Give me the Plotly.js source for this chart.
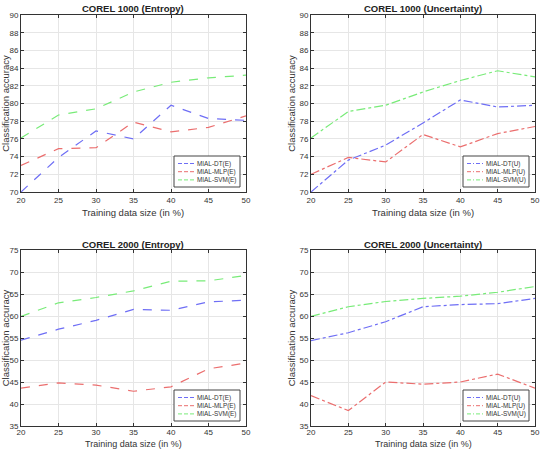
<!DOCTYPE html>
<html>
<head>
<meta charset="utf-8">
<script src="https://cdn.plot.ly/plotly-3.0.1.min.js"></script>
<style>
  html, body { margin: 0; padding: 0; background: #fff; }
  #chart { width: 541px; height: 449px; }
</style>
</head>
<body>
<div id="chart"></div>
<script>
// Training data size (in %)
const trainSize = [20, 25, 30, 35, 40, 45, 50];

// COREL 1000, entropy-based selection
const c1000_dt_E  = [70.0, 73.9, 76.9, 76.0, 79.8, 78.3, 78.1];
const c1000_mlp_E = [73.0, 74.9, 75.0, 77.9, 76.8, 77.3, 78.6];
const c1000_svm_E = [76.1, 78.7, 79.4, 81.3, 82.4, 82.9, 83.2];

// COREL 1000, uncertainty-based selection
const c1000_dt_U  = [70.0, 73.6, 75.3, 77.8, 80.4, 79.6, 79.8];
const c1000_mlp_U = [72.0, 73.9, 73.4, 76.5, 75.1, 76.6, 77.4];
const c1000_svm_U = [76.1, 79.1, 79.8, 81.3, 82.6, 83.7, 83.0];

// COREL 2000, entropy-based selection
const c2000_dt_E  = [54.5, 57.0, 59.0, 61.5, 61.3, 63.2, 63.6];
const c2000_mlp_E = [43.6, 44.8, 44.3, 42.9, 43.9, 48.0, 49.3];
const c2000_svm_E = [59.9, 63.0, 64.2, 65.7, 67.9, 68.0, 69.2];

// COREL 2000, uncertainty-based selection
const c2000_dt_U  = [54.4, 56.2, 58.7, 62.1, 62.6, 62.8, 64.0];
const c2000_mlp_U = [41.9, 38.5, 45.0, 44.5, 45.0, 46.8, 43.6];
const c2000_svm_U = [59.9, 62.1, 63.3, 64.0, 64.5, 65.4, 66.7];

const panelTitles = [
  'COREL 1000 (Entropy)', 'COREL 1000 (Uncertainty)',
  'COREL 2000 (Entropy)', 'COREL 2000 (Uncertainty)'
];
const xTitle = 'Training data size (in %)';
const yTitle = 'Classification accuracy';

const BLUE = 'rgb(110,110,245)';
const RED = 'rgb(235,110,110)';
const GREEN = 'rgb(120,235,120)';
const FONT = 'Liberation Sans, Arial, sans-serif';

function series(y, name, color, dash, xa, ya) {
  return {
    x: trainSize, y: y, name: name, type: 'scatter', mode: 'lines',
    line: { color: color, width: 1.2, dash: dash },
    xaxis: xa, yaxis: ya, showlegend: false
  };
}

const data = [
  series(c1000_dt_E,  'MIAL-DT(E)',  BLUE,  'dash', 'x',  'y'),
  series(c1000_mlp_E, 'MIAL-MLP(E)', RED,   'dash', 'x',  'y'),
  series(c1000_svm_E, 'MIAL-SVM(E)', GREEN, 'dash', 'x',  'y'),
  series(c1000_dt_U,  'MIAL-DT(U)',  BLUE,  'dashdot', 'x2', 'y2'),
  series(c1000_mlp_U, 'MIAL-MLP(U)', RED,   'dashdot', 'x2', 'y2'),
  series(c1000_svm_U, 'MIAL-SVM(U)', GREEN, 'dashdot', 'x2', 'y2'),
  series(c2000_dt_E,  'MIAL-DT(E)',  BLUE,  'dash', 'x3', 'y3'),
  series(c2000_mlp_E, 'MIAL-MLP(E)', RED,   'dash', 'x3', 'y3'),
  series(c2000_svm_E, 'MIAL-SVM(E)', GREEN, 'dash', 'x3', 'y3'),
  series(c2000_dt_U,  'MIAL-DT(U)',  BLUE,  'dashdot', 'x4', 'y4'),
  series(c2000_mlp_U, 'MIAL-MLP(U)', RED,   'dashdot', 'x4', 'y4'),
  series(c2000_svm_U, 'MIAL-SVM(U)', GREEN, 'dashdot', 'x4', 'y4')
];

const W = 541, H = 449;
const px = v => v / W;          // horizontal pixel -> paper
const py = v => 1 - v / H;      // vertical pixel -> paper

const colL = [px(21), px(246)];
const colR = [px(311), px(535)];
const rowT = [py(192), py(15)];
const rowB = [py(426), py(250)];

function xAxis(domain, anchor, labelShift) {
  return {
    domain: domain, anchor: anchor, range: [20, 50], tickvals: trainSize,
    showgrid: true, gridcolor: '#e6e6e6', gridwidth: 1,
    showline: true, linecolor: '#333', linewidth: 1, mirror: 'all',
    ticks: 'inside', ticklen: 3, tickcolor: '#333',
    ticklabelstandoff: labelShift,
    tickfont: { size: 8, color: '#333', family: FONT },
    zeroline: false
  };
}
function yAxis(domain, anchor, range, dtick) {
  return {
    domain: domain, anchor: anchor, range: range, dtick: dtick, tick0: range[0],
    showgrid: true, gridcolor: '#e6e6e6', gridwidth: 1,
    showline: true, linecolor: '#333', linewidth: 1, mirror: 'all',
    ticks: 'inside', ticklen: 3, tickcolor: '#333',
    tickfont: { size: 8, color: '#333', family: FONT },
    zeroline: false,
    title: { text: yTitle, font: { size: 9.5, color: '#333', family: FONT }, standoff: 2 }
  };
}

const shapes = [];
const annotations = [];

// Short dash patterns so the tiny legend samples still read as dashed / dash-dotted
const legendDash = { dash: '4px,2px', dashdot: '4px,2px,1px,2px' };

// Compact boxed legend for one panel, built from that panel's traces
function addLegend(traces, left, top) {
  const w = 66, h = 31;
  shapes.push({
    type: 'rect', xref: 'paper', yref: 'paper',
    x0: px(left), x1: px(left + w), y0: py(top + h), y1: py(top),
    line: { color: '#444', width: 1 }, fillcolor: '#fff', layer: 'above'
  });
  traces.forEach((t, i) => {
    const yc = top + 7.5 + i * 8.2;
    shapes.push({
      type: 'line', xref: 'paper', yref: 'paper',
      x0: px(left + 4), x1: px(left + 20), y0: py(yc), y1: py(yc),
      line: { color: t.line.color, width: 1, dash: legendDash[t.line.dash] }, layer: 'above'
    });
    annotations.push({
      text: t.name, xref: 'paper', yref: 'paper', x: px(left + 21), y: py(yc),
      xanchor: 'left', yanchor: 'middle', showarrow: false,
      font: { size: 6.4, color: '#333', family: FONT }
    });
  });
}

addLegend(data.slice(0, 3), 174, 156);
addLegend(data.slice(3, 6), 463, 156);
addLegend(data.slice(6, 9), 174, 390);
addLegend(data.slice(9, 12), 463, 390);

const textAnn = (text, x, y, size, color) => ({
  text: text, x: px(x), y: py(y), xref: 'paper', yref: 'paper',
  xanchor: 'center', yanchor: 'middle', showarrow: false,
  font: { size: size, color: color, family: FONT }
});
annotations.push(
  textAnn('<b>' + panelTitles[0] + '</b>', 133, 9, 9.5, '#222'),
  textAnn('<b>' + panelTitles[1] + '</b>', 423, 9, 9.5, '#222'),
  textAnn('<b>' + panelTitles[2] + '</b>', 133, 244, 9.5, '#222'),
  textAnn('<b>' + panelTitles[3] + '</b>', 423, 244, 9.5, '#222'),
  textAnn(xTitle, 133, 212, 9.5, '#333'),
  textAnn(xTitle, 423, 212, 9.5, '#333'),
  textAnn(xTitle, 133, 443.5, 9, '#333'),
  textAnn(xTitle, 423, 443.5, 9, '#333')
);

const layout = {
  width: W, height: H,
  margin: { l: 0, r: 0, t: 0, b: 0 },
  paper_bgcolor: '#fff', plot_bgcolor: '#fff',
  showlegend: false,
  xaxis: xAxis(colL, 'y', 0),   yaxis: yAxis(rowT, 'x', [70, 90], 2),
  xaxis2: xAxis(colR, 'y2', 0), yaxis2: yAxis(rowT, 'x2', [70, 90], 2),
  xaxis3: xAxis(colL, 'y3', -2), yaxis3: yAxis(rowB, 'x3', [35, 75], 5),
  xaxis4: xAxis(colR, 'y4', -2), yaxis4: yAxis(rowB, 'x4', [35, 75], 5),
  shapes: shapes,
  annotations: annotations
};

Plotly.newPlot('chart', data, layout, { displayModeBar: false, staticPlot: true });
</script>
</body>
</html>
